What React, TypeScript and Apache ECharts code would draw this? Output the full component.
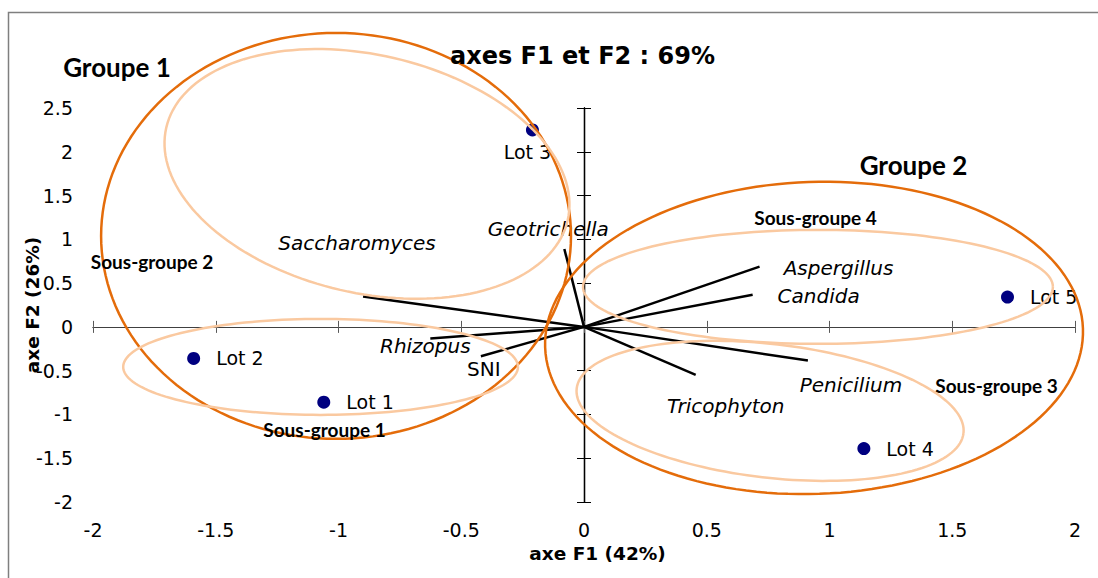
import React, { useEffect, useRef } from 'react';
import * as echarts from 'echarts';

// ---- Data ----
const lotNames = ['Lot 1', 'Lot 2', 'Lot 3', 'Lot 4', 'Lot 5'];
const lotF1 = [-1.06, -1.59, -0.21, 1.14, 1.725];
const lotF2 = [-0.86, -0.36, 2.25, -1.39, 0.34];

const varNames = ['Saccharomyces', 'Geotrichella', 'Aspergillus', 'Candida', 'Penicilium', 'Tricophyton', 'Rhizopus', 'SNI'];
const varF1 = [-0.9, -0.08, 0.715, 0.687, 0.912, 0.455, -0.626, -0.42];
const varF2 = [0.347, 0.89, 0.689, 0.366, -0.385, -0.549, -0.134, -0.336];
const varItalic = [true, true, true, true, true, true, true, false];
// label offsets (px) relative to the arrow end
const varLabelDx = [-6, -16, 79, 66, 43, 30, -5, 3];
const varLabelDy = [-54, -20, 1, 1, 24, 31, 7, 13];

// group ellipses (centre and half-axes in data units, tilt in degrees on screen)
const ellipseNames = ['Groupe 1', 'Sous-groupe 2', 'Sous-groupe 1', 'Groupe 2', 'Sous-groupe 4', 'Sous-groupe 3'];
const ellipseCx = [-1.01, -0.884, -1.073, 0.937, 0.953, 0.758];
const ellipseCy = [1.039, 1.747, -0.457, -0.126, 0.457, -0.959];
const ellipseRx = [0.957, 0.839, 0.804, 1.096, 0.957, 0.793];
const ellipseRy = [2.318, 1.359, 0.548, 1.782, 0.651, 0.763];
const ellipseTilt = [0, 13, 0, -2, 0, 6.6];
const ellipseIsGroup = [true, false, false, true, false, false];

const groupLabels = ['Groupe 1', 'Groupe 2'];
const groupLabelX = [117, 913.5];
const groupLabelY = [66.5, 165];
const subLabels = ['Sous-groupe 2', 'Sous-groupe 4', 'Sous-groupe 3', 'Sous-groupe 1'];
const subLabelX = [152, 815.5, 996.5, 324.5];
const subLabelY = [261.5, 217, 385, 429];

const DARK = '#E46C0A';
const LIGHT = '#FAC9A0';
const FONT = 'DejaVu Sans';
const CAL = 'Lato';

export default function App() {
  const ref = useRef<HTMLDivElement>(null);
  useEffect(() => {
    if (!ref.current) return;
    const chart = echarts.init(ref.current, null, { renderer: 'svg' });

    const baseX = { type: 'value', min: -2, max: 2, interval: 0.5, splitLine: { show: false } };
    const baseY = { type: 'value', min: -2, max: 2.5, interval: 0.5, splitLine: { show: false } };
    const xLine = { show: true, onZero: true, onZeroAxisIndex: 0, lineStyle: { color: '#404040', width: 1 } };
    const yLine = { show: true, onZero: true, onZeroAxisIndex: 0, lineStyle: { color: '#000', width: 1.3 } };

    const option: any = {
      animation: false,
      grid: { left: 93, top: 108, width: 982, height: 394, containLabel: false, outerBoundsMode: 'none' },
      xAxis: [
        {
          ...baseX,
          position: 'bottom',
          axisLine: { show: false, onZero: false },
          axisTick: { show: false },
          axisLabel: { margin: 18, color: '#000', fontSize: 19, fontFamily: FONT },
          name: 'axe F1 (42%)',
          nameLocation: 'middle',
          nameGap: 42,
          nameMoveOverlap: false,
          nameTextStyle: { fontFamily: FONT, fontWeight: 'bold', fontSize: 18.5, color: '#000', padding: [0, 0, 0, 27] },
        },
        { ...baseX, position: 'bottom', axisLine: xLine, axisTick: { show: true, inside: false, length: 6, lineStyle: { color: '#595959' } }, axisLabel: { show: false } },
        { ...baseX, position: 'bottom', axisLine: xLine, axisTick: { show: true, inside: true, length: 6, lineStyle: { color: '#595959' } }, axisLabel: { show: false } },
      ],
      yAxis: [
        {
          ...baseY,
          position: 'left',
          axisLine: { show: false, onZero: false },
          axisTick: { show: false },
          axisLabel: { margin: 20, color: '#000', fontSize: 19, fontFamily: FONT },
          name: 'axe F2 (26%)',
          nameLocation: 'middle',
          nameGap: 51,
          nameMoveOverlap: false,
          nameTextStyle: { fontFamily: FONT, fontWeight: 'bold', fontSize: 18.5, color: '#000' },
        },
        { ...baseY, position: 'left', axisLine: yLine, axisTick: { show: true, inside: false, length: 7, lineStyle: { color: '#000' } }, axisLabel: { show: false } },
        { ...baseY, position: 'left', axisLine: yLine, axisTick: { show: true, inside: true, length: 7, lineStyle: { color: '#000' } }, axisLabel: { show: false } },
      ],
      graphic: [
        { type: 'rect', silent: true, z: 0, shape: { x: 8.5, y: 12.5, width: 1200, height: 800 }, style: { fill: 'none', stroke: '#7f7f7f', lineWidth: 1.5 } },
        { type: 'text', z: 100, x: 582.5, y: 55.5, style: { text: 'axes F1 et F2 : 69%', fontFamily: FONT, fontWeight: 'bold', fontSize: 24, fill: '#000', align: 'center', verticalAlign: 'middle' } },
        ...groupLabels.map((t, i) => ({ type: 'text', z: 100, x: groupLabelX[i], y: groupLabelY[i], style: { text: t, fontFamily: CAL, fontWeight: 'bold', fontSize: 26, fill: '#000', align: 'center', verticalAlign: 'middle' } })),
        ...subLabels.map((t, i) => ({ type: 'text', z: 100, x: subLabelX[i], y: subLabelY[i], style: { text: t, fontFamily: CAL, fontWeight: 'bold', fontSize: 19, fill: '#000', align: 'center', verticalAlign: 'middle' } })),
      ],
      series: [
        {
          type: 'custom',
          name: 'variables',
          xAxisIndex: 0,
          yAxisIndex: 0,
          z: 2,
          clip: false,
          encode: { x: 0, y: 1 },
          data: varF1.map((x, i) => [x, varF2[i]]),
          renderItem: (params: any, api: any) => {
            const i = params.dataIndex;
            const o = api.coord([0, 0]);
            const e = api.coord([api.value(0), api.value(1)]);
            return {
              type: 'group',
              children: [
                { type: 'line', shape: { x1: o[0], y1: o[1], x2: e[0], y2: e[1] }, style: { stroke: '#000', lineWidth: 2.5 } },
                {
                  type: 'text',
                  x: e[0] + varLabelDx[i],
                  y: e[1] + varLabelDy[i],
                  style: { text: varNames[i], fill: '#000', fontFamily: FONT, fontSize: 20, fontStyle: varItalic[i] ? 'italic' : 'normal', align: 'center', verticalAlign: 'middle' },
                },
              ],
            };
          },
        },
        {
          type: 'scatter',
          name: 'lots',
          xAxisIndex: 0,
          yAxisIndex: 0,
          z: 3,
          symbolSize: 13,
          itemStyle: { color: '#000080', opacity: 1 },
          label: { show: true, formatter: '{b}', position: 'right', distance: 16, color: '#000', opacity: 1, fontFamily: FONT, fontSize: 19 },
          data: lotNames.map((n, i) => ({
            name: n,
            value: [lotF1[i], lotF2[i]],
            label: i === 2 ? { position: 'bottom', distance: 6, offset: [-5, 0] } : undefined,
          })),
        },
        {
          type: 'custom',
          name: 'groupes',
          xAxisIndex: 0,
          yAxisIndex: 0,
          z: 4,
          clip: false,
          encode: { x: 0, y: 1 },
          data: ellipseCx.map((cx, i) => [cx, ellipseCy[i], ellipseRx[i], ellipseRy[i], ellipseTilt[i]]),
          renderItem: (params: any, api: any) => {
            const i = params.dataIndex;
            const c = api.coord([api.value(0), api.value(1)]);
            const s = api.size([api.value(2), api.value(3)]);
            const th = (api.value(4) * Math.PI) / 180;
            const pts: number[][] = [];
            const n = 160;
            for (let k = 0; k <= n; k++) {
              const t = (k / n) * Math.PI * 2;
              const x = s[0] * Math.cos(t);
              const y = s[1] * Math.sin(t);
              pts.push([c[0] + x * Math.cos(th) - y * Math.sin(th), c[1] + x * Math.sin(th) + y * Math.cos(th)]);
            }
            return {
              type: 'polyline',
              shape: { points: pts },
              style: { stroke: ellipseIsGroup[i] ? DARK : LIGHT, lineWidth: 2.5, fill: 'none' },
            };
          },
        },
      ],
    };
    chart.setOption(option);
    return () => chart.dispose();
  }, []);
  return <div ref={ref} style={{ position: 'absolute', left: 0, top: 0, width: 1098, height: 578, background: '#fff' }} />;
}
